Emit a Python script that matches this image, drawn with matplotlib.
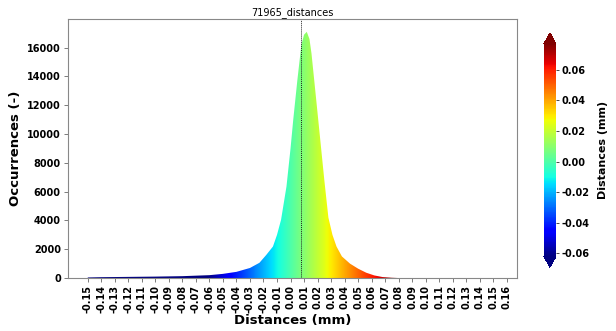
import numpy as np
import matplotlib
matplotlib.use("Agg")
import matplotlib.pyplot as plt
from matplotlib.colors import Normalize

# histogram outline
dist = [-0.150, -0.140, -0.120, -0.100, -0.080, -0.060, -0.050, -0.040, -0.030,
        -0.023, -0.018, -0.013, -0.010, -0.007, -0.003, 0.000, 0.002, 0.005,
        0.008, 0.010, 0.012, 0.014, 0.0155, 0.018, 0.0205, 0.025, 0.028, 0.031,
        0.034, 0.038, 0.044, 0.050, 0.056, 0.062, 0.068, 0.075, 0.080]
counts = [40, 60, 80, 100, 130, 200, 290, 430, 700,
          1060, 1600, 2190, 3000, 4050, 6360, 9000, 10990, 13700,
          16200, 16900, 17100, 16600, 15600, 13300, 10990, 6800, 4200, 3000,
          2190, 1500, 1000, 650, 370, 180, 70, 20, 0]
mean_dist = 0.0077
cmin, cmax = -0.062, 0.077
xticks = np.round(np.arange(-0.15, 0.161, 0.01), 2)
yticks = [0, 2000, 4000, 6000, 8000, 10000, 12000, 14000, 16000]
cticks = [-0.06, -0.04, -0.02, 0.00, 0.02, 0.04, 0.06]

plt.rcParams['font.family'] = 'DejaVu Sans'
fig = plt.figure(figsize=(6.16, 3.31), dpi=100)
ax = fig.add_axes([0.110, 0.160, 0.729, 0.783])
norm = Normalize(vmin=cmin, vmax=cmax)
cmap = plt.get_cmap('jet')

xlim = (-0.1648, 0.1674)
ylim = (0, 18000)
poly = ax.fill_between(dist, 0, counts, color='none', lw=0)
grad = np.linspace(xlim[0], xlim[1], 600).reshape(1, -1)
img = ax.imshow(grad, cmap=cmap, norm=norm, aspect='auto',
                extent=[xlim[0], xlim[1], ylim[0], ylim[1]], origin='lower')
path = poly.get_paths()[0]
img.set_clip_path(path, transform=ax.transData)

ax.axvline(mean_dist, color='#222222', lw=0.7, ls=(0, (1, 1)))
ax.set_xlim(xlim)
ax.set_ylim(ylim)
ax.set_xticks(xticks)
ax.set_xticklabels(['%.2f' % v for v in xticks], rotation=90, fontweight='bold', fontsize=7)
ax.set_yticks(yticks)
ax.set_yticklabels([str(v) for v in yticks], fontweight='bold', fontsize=7)
ax.tick_params(length=3, width=0.6, color='#666666', pad=2)
for s in ax.spines.values():
    s.set_color('#888888')
    s.set_linewidth(0.8)
ax.set_title('71965_distances', fontsize=7, pad=3)
ax.set_xlabel('Distances (mm)', fontweight='bold', fontsize=9.5, labelpad=1)
ax.set_ylabel('Occurrences (-)', fontweight='bold', fontsize=9.5, labelpad=4)

cax = fig.add_axes([0.883, 0.193, 0.0195, 0.707])
sm = plt.cm.ScalarMappable(norm=norm, cmap=cmap)
cb = fig.colorbar(sm, cax=cax, extend='both', ticks=cticks)
cb.outline.set_visible(False)
cb.ax.set_yticklabels(['%.2f' % v for v in cticks], fontweight='bold', fontsize=7)
cb.ax.tick_params(length=2, width=0.5, pad=2)
cb.set_label('Distances (mm)', fontweight='bold', fontsize=8, labelpad=6)

fig.savefig('out.png', dpi=100)
